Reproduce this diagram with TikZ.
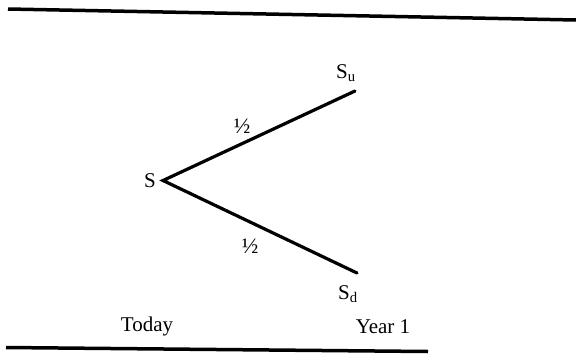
\documentclass[tikz,border=0pt]{standalone}
\usepackage{fontspec}
\setmainfont{Liberation Serif}
\begin{document}
\begin{tikzpicture}[x=1pt,y=-1pt,
  lbl/.style={inner sep=0pt, font=\fontsize{21}{23}\selectfont},
  half/.style={inner sep=0pt, font=\fontsize{22}{24}\selectfont},
  branch/.style={line width=3.2pt, line cap=round},
  rule/.style={line width=3.5pt}]
\useasboundingbox (0,0) rectangle (576,354);
% rules
\coordinate (t1) at (8,9);
\coordinate (t2) at (576,20);
\draw[rule] (t1) -- (t2);
\coordinate (b1) at (6,347.5);
\coordinate (b2) at (428,351.5);
\draw[rule] (b1) -- (b2);
% tree
\coordinate (j) at (163,180.5);
\coordinate (u) at (355,91);
\coordinate (d) at (357,273);
\draw[branch] (u) -- (j) -- (d);
\node[lbl] (s) at (150,181) {S};
\node[lbl] (su) at (346,73) {S\textsubscript{u}};
\node[lbl] (sd) at (348,294) {S\textsubscript{d}};
\node[half] (h1) at (242,126) {½};
\node[half] (h2) at (250,246) {½};
\node[lbl, anchor=base] (today) at (147,331.5) {Today};
\node[lbl, anchor=base] (year) at (383,333) {Year 1};
\end{tikzpicture}
\end{document}
